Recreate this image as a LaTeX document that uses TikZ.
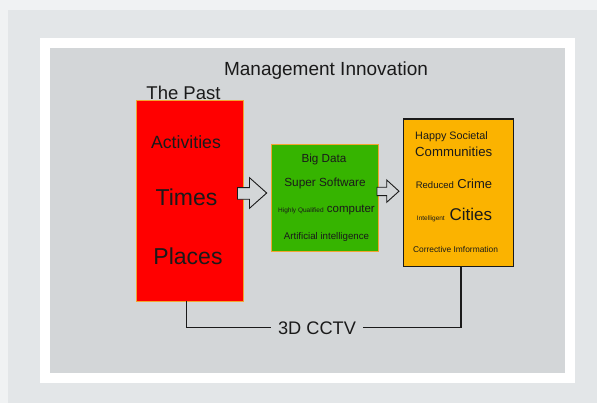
\documentclass[tikz,border=0pt]{standalone}
\usepackage{fontspec}
\setmainfont{Liberation Sans}
\definecolor{outerbg}{HTML}{E3E6E8}
\definecolor{outeredge}{HTML}{F0F2F3}
\definecolor{panelgray}{HTML}{D3D6D8}
\definecolor{boxred}{HTML}{FF0000}
\definecolor{boxgreen}{HTML}{36B400}
\definecolor{boxorange}{HTML}{FBB300}
\definecolor{thinorange}{HTML}{F2A531}
\definecolor{ink}{HTML}{1A1A1A}
\tikzset{
  panelbox/.style={rectangle, inner sep=0pt, outer sep=0pt},
  lbl/.style={inner sep=0pt, text=ink, font=\fontsize{#1}{#1}\selectfont},
  blockarrow/.style={draw=ink, fill=panelgray, line width=0.9pt, line join=miter},
  wire/.style={draw=ink, line width=1.1pt}
}
\begin{document}
\begin{tikzpicture}[x=1pt,y=-1pt]
\useasboundingbox (0,0) rectangle (597,403);
\fill[outeredge] (0,0) rectangle (597,403);
\fill[outerbg] (8,10) rectangle (597,403);
\fill[white] (40,38) rectangle (575,383);
\fill[panelgray] (50,48) rectangle (565,373);

\node[lbl=19] (title) at (326,71) {Management Innovation};
\node[lbl=18.5] (past) at (183.5,93) {The Past};

\node[panelbox, fill=boxred, draw=thinorange, line width=0.8pt,
      minimum width=107pt, minimum height=201pt] (red) at (189.5,200.5) {};
\node[lbl=17.7] (act) at (186,142) {Activities};
\node[lbl=23] (times) at (186.5,197) {Times};
\node[lbl=23] (places) at (188,256) {Places};

\node[panelbox, fill=boxgreen, draw=thinorange, line width=0.8pt,
      minimum width=107pt, minimum height=107.4pt] (green) at (324.5,198) {};
\node[lbl=11.7] (big) at (324,159) {Big Data};
\node[lbl=11.8] (soft) at (325,183.5) {Super Software};
\node[lbl=11.5] (comp) at (326.5,210) {{\fontsize{6.5}{6.5}\selectfont Highly Qualified} computer};
\node[lbl=9.7] (ai) at (326.5,237) {Artificial intelligence};

\node[panelbox, fill=boxorange, draw=ink, line width=1.2pt,
      minimum width=109.7pt, minimum height=147.7pt] (orange) at (458.65,192.85) {};
\node[lbl=10.8, anchor=west] (happy) at (415,137) {Happy Societal};
\node[lbl=13.2, anchor=west] (comm) at (415,152) {Communities};
\node[lbl=13] (crime) at (454,183.5) {{\fontsize{9.5}{9.5}\selectfont Reduced} Crime};
\node[lbl=17] (cities) at (454.5,215) {{\fontsize{6.5}{6.5}\selectfont Intelligent} Cities};
\node[lbl=8.4] (corr) at (455.5,249.5) {Corrective Imformation};

\draw[blockarrow] (237.5,187.7) -- (249.5,187.7) -- (249.5,177.7) -- (266.7,193) -- (249.5,208.3) -- (249.5,199.3) -- (237.5,199.3) -- cycle;
\draw[blockarrow] (377,187.3) -- (386.7,187.3) -- (386.7,180) -- (399,191.2) -- (386.7,202.3) -- (386.7,195.7) -- (377,195.7) -- cycle;

\coordinate (cl) at (186.7,327.3);
\coordinate (cr) at (461,327.3);
\node[lbl=18.2, fill=panelgray, inner xsep=7pt, inner ysep=2pt] (cctv) at (317,328) {3D CCTV};
\draw[wire] (red.south -| cl) -- (cl) -- (cctv.west |- cl);
\draw[wire] (cctv.east |- cr) -- (cr) -- (orange.south -| cr);
\end{tikzpicture}
\end{document}
